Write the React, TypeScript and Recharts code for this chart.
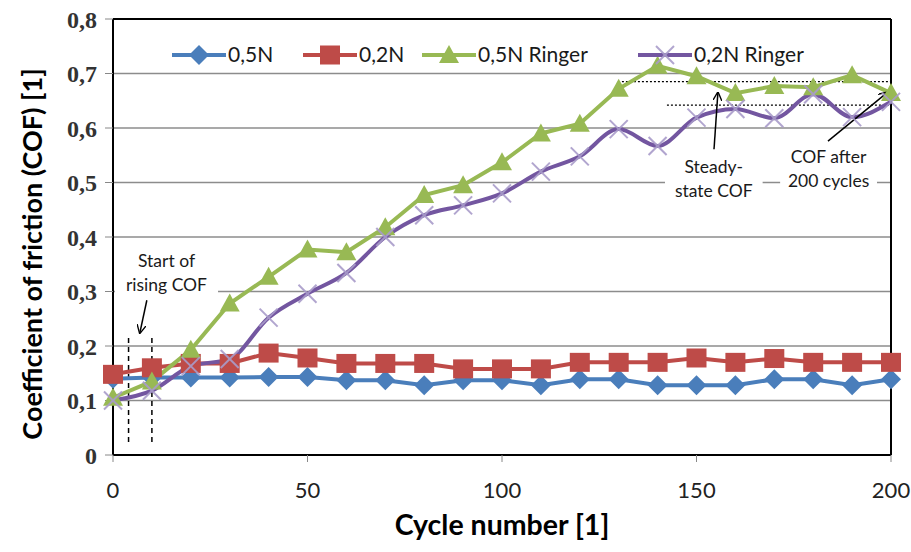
import {
  ComposedChart,
  Line,
  XAxis,
  YAxis,
  CartesianGrid,
  Legend,
  ReferenceLine,
  ReferenceArea,
} from "recharts";

// cycle number (x)
const cycles = [
  0, 10, 20, 30, 40, 50, 60, 70, 80, 90, 100, 110, 120, 130, 140, 150, 160, 170,
  180, 190, 200,
];

// COF per series
const cof05N = [
  0.14, 0.142, 0.142, 0.142, 0.143, 0.143, 0.137, 0.137, 0.128, 0.137, 0.137,
  0.128, 0.139, 0.139, 0.128, 0.128, 0.128, 0.139, 0.139, 0.128, 0.139,
];
const cof02N = [
  0.148, 0.16, 0.168, 0.168, 0.187, 0.178, 0.168, 0.168, 0.168, 0.158, 0.158,
  0.158, 0.17, 0.17, 0.17, 0.178, 0.17, 0.177, 0.17, 0.17, 0.17,
];
const cof05NRinger = [
  0.105, 0.135, 0.193, 0.278, 0.327, 0.377, 0.372, 0.418, 0.477, 0.495, 0.537,
  0.59, 0.608, 0.672, 0.714, 0.695, 0.664, 0.677, 0.675, 0.697, 0.664,
];
const cof02NRinger = [
  0.1, 0.118, 0.163, 0.176, 0.252, 0.296, 0.334, 0.4, 0.44, 0.458, 0.48, 0.52,
  0.548, 0.598, 0.567, 0.619, 0.635, 0.618, 0.662, 0.62, 0.648,
];

const seriesNames = ["0,5N", "0,2N", "0,5N Ringer", "0,2N Ringer"];
const yTicks = [0, 0.1, 0.2, 0.3, 0.4, 0.5, 0.6, 0.7, 0.8];
const xTicks = [0, 50, 100, 150, 200];

const data = cycles.map((c, i) => ({
  cycle: c,
  a: cof05N[i],
  b: cof02N[i],
  c: cof05NRinger[i],
  d: cof02NRinger[i],
}));

const BLUE = "#4a7ebb";
const RED = "#be4b48";
const GREEN = "#98b954";
const PURPLE = "#7356a0";
const PURPLE_X = "#a99cca";

const Diamond = ({ cx, cy }: any) => (
  <polygon
    points={`${cx},${cy - 10} ${cx + 10},${cy} ${cx},${cy + 10} ${cx - 10},${cy}`}
    fill={BLUE}
  />
);
const Square = ({ cx, cy }: any) => (
  <rect x={cx - 10} y={cy - 9.5} width={20} height={19} fill={RED} />
);
const Triangle = ({ cx, cy }: any) => (
  <polygon
    points={`${cx},${cy - 10} ${cx + 10},${cy + 8} ${cx - 10},${cy + 8}`}
    fill={GREEN}
  />
);
const Cross = ({ cx, cy }: any) => (
  <g stroke={PURPLE_X} strokeWidth={2} opacity={0.9}>
    <line x1={cx - 9} y1={cy - 9} x2={cx + 9} y2={cy + 9} />
    <line x1={cx - 9} y1={cy + 9} x2={cx + 9} y2={cy - 9} />
  </g>
);

const markers = [Diamond, Square, Triangle, Cross];
const colors = [BLUE, RED, GREEN, PURPLE];
const legendX = [172, 303, 422, 638];

const renderLegend = () => (
  <svg width={911} height={30}>
    {seriesNames.map((name, i) => {
      const M = markers[i];
      const x0 = legendX[i];
      return (
        <g key={name}>
          <line
            x1={x0}
            y1={15}
            x2={x0 + 54}
            y2={15}
            stroke={colors[i]}
            strokeWidth={4}
          />
          <M cx={x0 + 27} cy={15} />
          <text
            x={x0 + 56}
            y={22}
            fontFamily="Lato"
            fontSize={21}
            fill="#1a1a1a"
          >
            {name}
          </text>
        </g>
      );
    })}
  </svg>
);

const noteText = (lines: string[]) => (props: any) => {
  const vb = props.viewBox;
  if (!vb) return null;
  const cx = vb.x + vb.width / 2;
  const cy = vb.y + vb.height / 2;
  return (
    <text
      textAnchor="middle"
      fontFamily="Lato"
      fontSize={17.5}
      fill="#1a1a1a"
    >
      {lines.map((l, i) => (
        <tspan key={i} x={cx} y={cy - 6 + (i - (lines.length - 1) / 2) * 24 + 12}>
          {l}
        </tspan>
      ))}
    </text>
  );
};

const YTitle = (props: any) => {
  const vb = props.viewBox;
  const x = vb.x + 42;
  const y = vb.y + vb.height / 2 + 17;
  return (
    <text
      x={x}
      y={y}
      transform={`rotate(-90 ${x} ${y})`}
      textAnchor="middle"
      fontFamily="Lato"
      fontWeight="bold"
      fontSize={27}
      fill="#000"
    >
      Coefficient of friction (COF) [1]
    </text>
  );
};

const XTitle = (props: any) => {
  const vb = props.viewBox;
  return (
    <text
      x={vb.x + vb.width / 2}
      y={vb.y + 80}
      textAnchor="middle"
      fontFamily="Lato"
      fontWeight="bold"
      fontSize={28.5}
      fill="#000"
    >
      Cycle number [1]
    </text>
  );
};

export default function App() {
  return (
    <div style={{ position: "absolute", left: 0, top: 0, background: "#fff" }}>
      <ComposedChart
        width={911}
        height={552}
        data={data}
        margin={{ top: 19, right: 20, left: 0, bottom: 0 }}
      >
        <defs>
          <marker
            id="arrowHead"
            viewBox="0 0 10 10"
            refX="9"
            refY="5"
            markerWidth="6"
            markerHeight="6"
            orient="auto"
          >
            <path d="M0,0 L10,5 L0,10" fill="none" stroke="#000" strokeWidth={1.5} />
          </marker>
        </defs>
        <CartesianGrid vertical={false} stroke="#8c8c8c" strokeWidth={1.5} />
        <XAxis
          dataKey="cycle"
          type="number"
          domain={[0, 200]}
          ticks={xTicks}
          height={97}
          tickSize={7}
          tickMargin={20}
          axisLine={{ stroke: "#000", strokeWidth: 2 }}
          tickLine={{ stroke: "#888" }}
          tick={{ fontFamily: "Lato", fontSize: 22, fill: "#222" }}
          label={<XTitle />}
        />
        <YAxis
          domain={[0, 0.8]}
          ticks={yTicks}
          width={113}
          tickSize={8}
          tickMargin={8}
          axisLine={{ stroke: "#000", strokeWidth: 2 }}
          tickLine={{ stroke: "#888" }}
          tick={{
            fontFamily: "Liberation Serif",
            fontWeight: "bold",
            fontSize: 24,
            fill: "#333",
          }}
          tickFormatter={(v: number) =>
            v === 0 ? "0" : v.toFixed(1).replace(".", ",")
          }
          label={<YTitle />}
        />
        <Legend
          content={renderLegend}
          verticalAlign="middle"
          wrapperStyle={{ top: 40, left: 0, width: 911, height: 30 }}
        />
        <ReferenceLine y={0.8} stroke="#000" strokeWidth={2} />
        <ReferenceLine x={200} stroke="#000" strokeWidth={2} />

        <ReferenceArea
          x1={0.5}
          x2={27}
          y1={0.29}
          y2={0.378}
          fill="#fff"
          fillOpacity={1}
          stroke="none"
          label={noteText(["Start of", "rising COF"])}
        />
        <ReferenceArea
          x1={141.9}
          x2={167}
          y1={0.467}
          y2={0.547}
          fill="#fff"
          fillOpacity={1}
          stroke="none"
          label={noteText(["Steady-", "state COF"])}
        />
        <ReferenceArea
          x1={171.5}
          x2={196.4}
          y1={0.484}
          y2={0.564}
          fill="#fff"
          fillOpacity={1}
          stroke="none"
          label={noteText(["COF after", "200 cycles"])}
        />

        <ReferenceLine
          segment={[
            { x: 4, y: 0.024 },
            { x: 4, y: 0.215 },
          ]}
          stroke="#000"
          strokeWidth={1.5}
          strokeDasharray="5 4"
        />
        <ReferenceLine
          segment={[
            { x: 10, y: 0.024 },
            { x: 10, y: 0.215 },
          ]}
          stroke="#000"
          strokeWidth={1.5}
          strokeDasharray="5 4"
        />
        <ReferenceLine
          segment={[
            { x: 129.8, y: 0.685 },
            { x: 200, y: 0.685 },
          ]}
          stroke="#000"
          strokeWidth={1.2}
          strokeDasharray="2 2"
        />
        <ReferenceLine
          segment={[
            { x: 142.4, y: 0.642 },
            { x: 200, y: 0.642 },
          ]}
          stroke="#000"
          strokeWidth={1.2}
          strokeDasharray="2 2"
        />

        <Line
          dataKey="a"
          name={seriesNames[0]}
          stroke={BLUE}
          strokeWidth={4}
          dot={(p: any) => <Diamond key={`a${p.index}`} cx={p.cx} cy={p.cy} />}
          activeDot={false}
          isAnimationActive={false}
        />
        <Line
          dataKey="b"
          name={seriesNames[1]}
          stroke={RED}
          strokeWidth={4}
          dot={(p: any) => <Square key={`b${p.index}`} cx={p.cx} cy={p.cy} />}
          activeDot={false}
          isAnimationActive={false}
        />
        <Line
          dataKey="c"
          name={seriesNames[2]}
          stroke={GREEN}
          strokeWidth={4}
          dot={(p: any) => <Triangle key={`c${p.index}`} cx={p.cx} cy={p.cy} />}
          activeDot={false}
          isAnimationActive={false}
        />
        <Line
          dataKey="d"
          name={seriesNames[3]}
          type="monotone"
          stroke={PURPLE}
          strokeWidth={4}
          dot={(p: any) => <Cross key={`d${p.index}`} cx={p.cx} cy={p.cy} />}
          activeDot={false}
          isAnimationActive={false}
        />

        <ReferenceLine
          segment={[
            { x: 8.7, y: 0.284 },
            { x: 6.9, y: 0.224 },
          ]}
          stroke="#000"
          strokeWidth={1.5}
          markerEnd="url(#arrowHead)"
        />
        <ReferenceLine
          segment={[
            { x: 154.5, y: 0.561 },
            { x: 155.5, y: 0.665 },
          ]}
          stroke="#000"
          strokeWidth={1.5}
          markerEnd="url(#arrowHead)"
        />
        <ReferenceLine
          segment={[
            { x: 183.8, y: 0.576 },
            { x: 199, y: 0.665 },
          ]}
          stroke="#000"
          strokeWidth={1.5}
          markerEnd="url(#arrowHead)"
        />
      </ComposedChart>
    </div>
  );
}
